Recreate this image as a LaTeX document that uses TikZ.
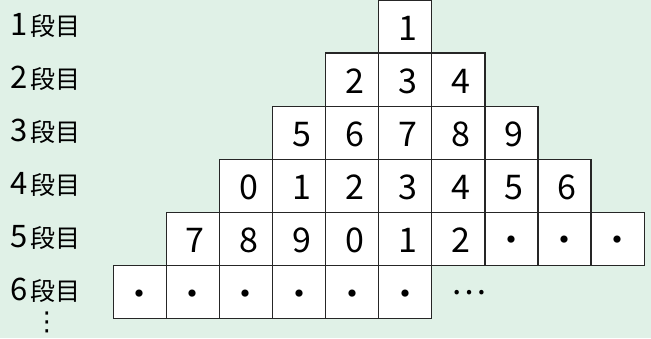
\documentclass[tikz,border=0pt]{standalone}
\usepackage{fontspec}
\setmainfont{Noto Sans CJK JP}
\newfontfamily\dejavu{DejaVu Sans}
\definecolor{bg}{RGB}{224,241,231}
\newcommand\celldotmark{\hspace*{-5pt}・}
\begin{document}
\begin{tikzpicture}[x=1pt,y=-1pt,
  cellbox/.style={draw=black!85, line width=1.3pt, fill=white, minimum width=53.1pt, minimum height=53.1pt, inner sep=0pt},
  celltext/.style={inner sep=0pt, font=\fontsize{34}{34}\selectfont, text height=25pt, text depth=0pt},
  rowlabel/.style={anchor=east, inner sep=0pt, font=\fontsize{25}{25}\selectfont},
  dotstext/.style={inner sep=0pt, font=\fontsize{33}{33}\selectfont}]
\fill[bg] (0,0) rectangle (651,338);
\useasboundingbox (0,0) rectangle (651,338);
\foreach \r/\lst in {1/{1},2/{2,3,4},3/{5,6,7,8,9},4/{0,1,2,3,4,5,6},5/{7,8,9,0,1,2,\celldotmark,\celldotmark,\celldotmark},6/{\celldotmark,\celldotmark,\celldotmark,\celldotmark,\celldotmark,\celldotmark}} {
  \foreach \v [count=\i] in \lst {
    \node[cellbox] (c\r-\i) at ({378.7+26.55+(\i-\r)*53.1},{(\r-0.5)*53.1}) {};
    \node[celltext, xshift=2.5pt, yshift=-1.5pt] (t\r-\i) at (c\r-\i) {\v};
  }
}
\foreach \r in {1,...,6} {
  \node[rowlabel] (l\r) at (81,{(\r-0.5)*53.1-1.5}) {{\fontsize{31}{31}\selectfont\r}\hspace{3.5pt}段目};
}
\node[dotstext] (ell) at (468.5,292.5) {…};
\node[inner sep=0pt, font=\fontsize{26}{26}\dejavu] (vd) at (47,322) {⋮};
\end{tikzpicture}
\end{document}
